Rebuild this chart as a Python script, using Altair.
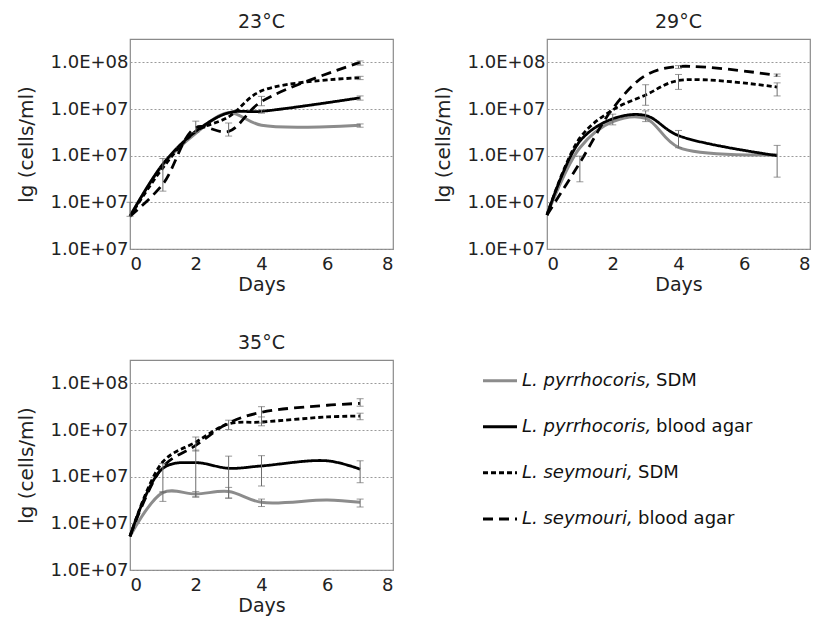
import altair as alt
import pandas as pd

FONT = "DejaVu Sans"

# ---------------- data (lg cells/ml) ----------------
days = [0, 1, 2, 3, 4, 7]
days35 = [0, 1, 2, 3, 4, 6, 7]

series_names = [
    "L. pyrrhocoris, SDM",
    "L. pyrrhocoris, blood agar",
    "L. seymouri, SDM",
    "L. seymouri, blood agar",
]
series_colors = ["#8c8c8c", "#000000", "#000000", "#000000"]
series_dashes = [[1, 0], [1, 0], [5, 3], [10, 6]]

t23_pyr_sdm = [4.70, 5.80, 6.48, 6.92, 6.65, 6.65]
t23_pyr_blood = [4.70, 5.82, 6.52, 6.92, 6.95, 7.24]
t23_sey_sdm = [4.70, 5.74, 6.52, 6.83, 7.39, 7.67]
t23_sey_blood = [4.70, 5.39, 6.60, 6.52, 7.16, 8.00]

t29_pyr_sdm = [4.73, 6.17, 6.73, 6.80, 6.18, 6.02]
t29_pyr_blood = [4.73, 6.31, 6.79, 6.86, 6.43, 6.00]
t29_sey_sdm = [4.73, 6.38, 6.98, 7.30, 7.61, 7.47]
t29_sey_blood = [4.73, 5.85, 7.01, 7.72, 7.91, 7.72]

t35_pyr_sdm = [4.72, 5.66, 5.63, 5.68, 5.45, 5.50, 5.45]
t35_pyr_blood = [4.72, 6.18, 6.30, 6.18, 6.23, 6.34, 6.16]
t35_sey_sdm = [4.72, 6.32, 6.74, 7.13, 7.17, 7.28, 7.30]
t35_sey_blood = [4.72, 6.21, 6.67, 7.15, 7.38, 7.53, 7.57]

# error bars: (series index, day, low, high)
err23 = [(3, 0, 4.70, 5.00), (3, 1, 5.24, 5.94), (2, 2, 6.50, 6.74), (3, 3, 6.42, 6.70),
         (3, 4, 7.07, 7.27), (1, 4, 6.91, 6.98), (1, 7, 7.19, 7.28), (0, 7, 6.61, 6.68),
         (2, 7, 7.63, 7.70), (3, 7, 7.94, 8.03)]
err29 = [(3, 1, 5.44, 5.99), (1, 2, 6.66, 6.89), (2, 3, 7.08, 7.52), (1, 3, 6.73, 6.96),
         (2, 4, 7.42, 7.74), (3, 4, 7.87, 7.93), (1, 4, 6.17, 6.54), (2, 7, 7.28, 7.56),
         (3, 7, 7.70, 7.75), (1, 7, 5.54, 6.22)]
err35 = [(1, 1, 5.66, 6.28), (0, 1, 5.47, 5.68), (1, 2, 5.57, 6.57), (0, 2, 5.56, 5.68),
         (3, 2, 6.55, 6.85), (1, 3, 5.54, 6.44), (0, 3, 5.54, 5.77), (2, 3, 7.01, 7.21),
         (1, 4, 5.80, 6.45), (0, 4, 5.36, 5.52), (3, 4, 7.15, 7.50), (2, 4, 7.09, 7.28),
         (1, 7, 5.87, 6.34), (0, 7, 5.35, 5.52), (2, 7, 7.22, 7.36), (3, 7, 7.51, 7.67)]

y_ticks = [4, 5, 6, 7, 8]
x_ticks = [0, 2, 4, 6, 8]

# ---------------- tables ----------------
def line_table(dlist, vals):
    rows = []
    for name, v in zip(series_names, vals):
        for d, lg in zip(dlist, v):
            rows.append({"series": name, "day": d, "lg": lg})
    return pd.DataFrame(rows)


def err_table(errs):
    return pd.DataFrame([{"series": series_names[i], "day": d, "lo": lo, "hi": hi}
                         for i, d, lo, hi in errs])


color_scale = alt.Scale(domain=series_names, range=series_colors)
dash_scale = alt.Scale(domain=series_names, range=series_dashes)

W, H = 263, 210


def panel(title, ld, ed):
    xax = alt.Axis(values=x_ticks, title="Days", grid=False, ticks=False, domain=False,
                   labelFontSize=18, titleFontSize=19, titleFontWeight="normal",
                   labelPadding=6, titlePadding=2, labelColor="#222", titleColor="#222")
    yax = alt.Axis(values=y_ticks, title="lg (cells/ml)", grid=True, gridDash=[2, 2],
                   gridColor="#9a9a9a", gridWidth=1, ticks=False, domain=False,
                   labelExpr="datum.value == 8 ? '1.0E+08' : '1.0E+07'",
                   labelFontSize=18, titleFontSize=20, titleFontWeight="normal",
                   labelPadding=2, titlePadding=14, labelColor="#222", titleColor="#222")
    xs = alt.Scale(domain=[0, 8], nice=False)
    ys = alt.Scale(domain=[4, 8.5], nice=False, zero=False)

    base = alt.Chart(ld)
    gray = base.transform_filter(alt.datum.series == series_names[0]).mark_line(
        interpolate="catmull-rom", strokeWidth=3, color=series_colors[0]
    ).encode(
        x=alt.X("day:Q", scale=xs, axis=xax),
        y=alt.Y("lg:Q", scale=ys, axis=yax),
    )
    blacks = base.transform_filter(alt.datum.series != series_names[0]).mark_line(
        interpolate="catmull-rom", strokeWidth=2.8
    ).encode(
        x=alt.X("day:Q", scale=xs, axis=xax),
        y=alt.Y("lg:Q", scale=ys, axis=yax),
        color=alt.Color("series:N", scale=color_scale, legend=None),
        strokeDash=alt.StrokeDash("series:N", scale=dash_scale, legend=None),
    )
    eb = alt.Chart(ed)
    rules = eb.mark_rule(color="#6e6e6e", strokeWidth=1).encode(
        x=alt.X("day:Q", scale=xs, axis=xax),
        y=alt.Y("lo:Q", scale=ys, axis=yax),
        y2="hi:Q",
    )
    caps = eb.transform_fold(["lo", "hi"], as_=["end", "val"]).mark_tick(
        orient="horizontal", size=7, thickness=1, color="#6e6e6e"
    ).encode(
        x=alt.X("day:Q", scale=xs, axis=xax),
        y=alt.Y("val:Q", scale=ys, axis=yax),
    )
    return alt.layer(gray, blacks, rules, caps).properties(
        width=W, height=H,
        title=alt.TitleParams(title, fontSize=19, fontWeight="normal", offset=7,
                              color="#222", font=FONT),
    )


p23 = panel("23°C", line_table(days, [t23_pyr_sdm, t23_pyr_blood, t23_sey_sdm, t23_sey_blood]), err_table(err23))
p29 = panel("29°C", line_table(days, [t29_pyr_sdm, t29_pyr_blood, t29_sey_sdm, t29_sey_blood]), err_table(err29))
p35 = panel("35°C", line_table(days35, [t35_pyr_sdm, t35_pyr_blood, t35_sey_sdm, t35_sey_blood]), err_table(err35))

# ---------------- legend ----------------
leg_species = ["L. pyrrhocoris,", "L. pyrrhocoris,", "L. seymouri,", "L. seymouri,"]
leg_media = ["SDM", "blood agar", "SDM", "blood agar"]
leg_df = pd.DataFrame({"series": series_names, "row": [0, 1, 2, 3],
                       "species": leg_species, "media": leg_media})
ly = alt.Y("row:Q", scale=alt.Scale(domain=[-0.45, 4.11], reverse=True, nice=False, zero=False), axis=None)
lbase = alt.Chart(leg_df)
lrule = lbase.mark_rule(strokeWidth=3).encode(
    x=alt.value(50), x2=alt.value(84), y=ly,
    color=alt.Color("series:N", scale=color_scale, legend=None),
    strokeDash=alt.StrokeDash("series:N", scale=dash_scale, legend=None),
)
lsp = lbase.mark_text(align="left", baseline="middle", fontSize=18, fontStyle="italic",
                      color="#111", font=FONT).encode(x=alt.value(89), y=ly, text="species:N")
lmed1 = lbase.transform_filter(alt.datum.row < 2).mark_text(
    align="left", baseline="middle", fontSize=18, color="#111", font=FONT, dx=134
).encode(x=alt.value(89), y=ly, text="media:N")
lmed2 = lbase.transform_filter(alt.datum.row >= 2).mark_text(
    align="left", baseline="middle", fontSize=18, color="#111", font=FONT, dx=116
).encode(x=alt.value(89), y=ly, text="media:N")
legend = alt.layer(lrule, lsp, lmed1, lmed2).properties(
    width=W, height=H,
    title=alt.TitleParams(" ", fontSize=19, offset=7, font=FONT),
    view=alt.ViewBackground(stroke="transparent"),
)

chart = alt.vconcat(
    alt.hconcat(p23, p29, spacing=38),
    alt.hconcat(p35, legend, spacing=38),
    spacing=38,
).resolve_scale(x="independent", y="independent").properties(
    padding={"left": 7, "top": 4, "right": 0, "bottom": 0}
).configure(font=FONT).configure_view(stroke="#8a8a8a", strokeWidth=1.2)

chart.save("out.html", embed_options={"renderer": "svg", "actions": False})
